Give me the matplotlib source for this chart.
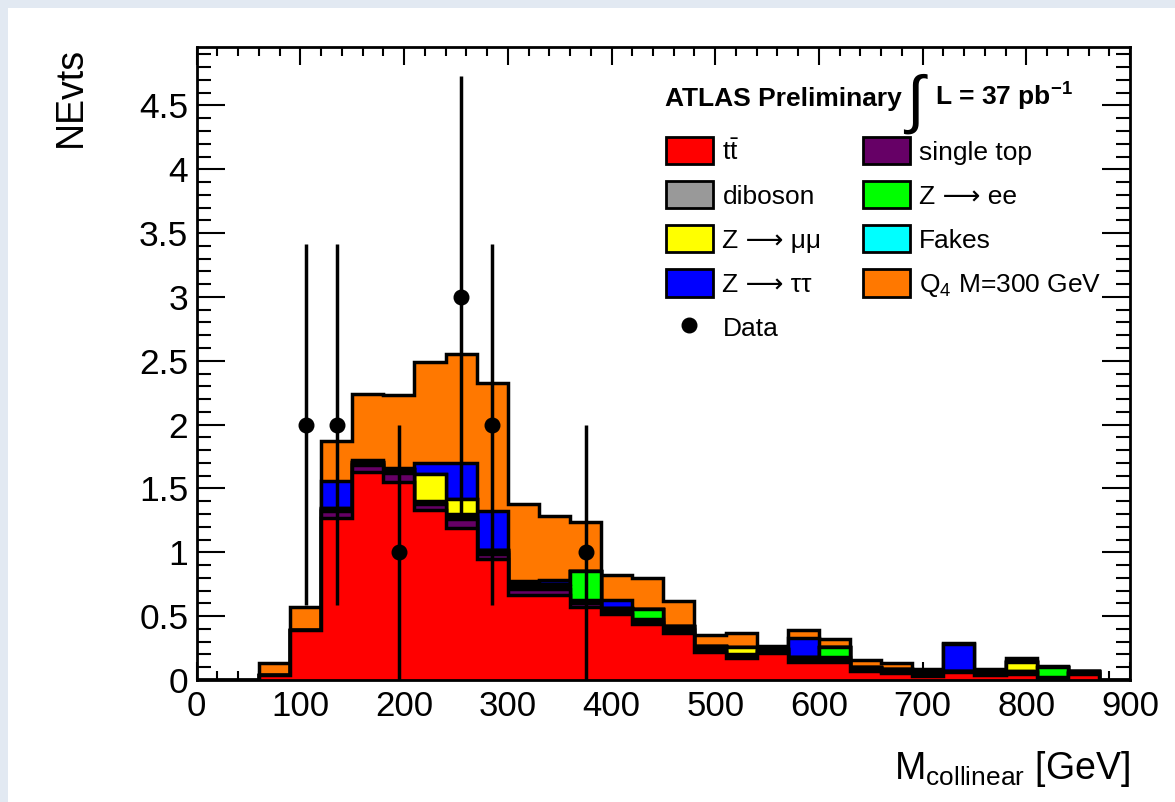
import matplotlib
matplotlib.use("Agg")
import matplotlib.pyplot as plt
import numpy as np
from matplotlib.patches import Patch, Rectangle
from matplotlib.lines import Line2D
from matplotlib.ticker import MultipleLocator, FuncFormatter

plt.rcParams['font.family'] = ['Liberation Sans', 'DejaVu Sans']
plt.rcParams['mathtext.fontset'] = 'custom'
plt.rcParams['mathtext.rm'] = 'Liberation Sans'
plt.rcParams['mathtext.it'] = 'Liberation Sans:italic'
plt.rcParams['mathtext.bf'] = 'Liberation Sans:bold'

# 30 GeV bins from 0 to 900
edges = np.arange(0, 901, 30)

ttbar = [0, 0, 0.04, 0.39, 1.27, 1.63, 1.55, 1.33, 1.19, 0.95, 0.665, 0.665, 0.575, 0.515, 0.435,
         0.37, 0.22, 0.17, 0.21, 0.14, 0.14, 0.07, 0.055, 0.03, 0.06, 0.04, 0.05, 0.015, 0.045, 0]
single_top = [0, 0, 0, 0, 0.05, 0.05, 0.07, 0.05, 0.07, 0.04, 0.05, 0.05, 0.03, 0.02, 0.02,
              0.02, 0.02, 0.015, 0.01, 0.01, 0.02, 0.01, 0.01, 0.01, 0.005, 0.01, 0.01, 0.003, 0.01, 0]
diboson = [0, 0, 0, 0, 0.01, 0.01, 0.01, 0.01, 0.02, 0.01, 0.02, 0.02, 0.02, 0.01, 0.02,
           0.01, 0.01, 0.01, 0.01, 0.01, 0.02, 0.01, 0.01, 0.01, 0.005, 0.01, 0.01, 0.003, 0.005, 0]
z_ee = [0, 0, 0, 0, 0.01, 0.02, 0.02, 0.01, 0.02, 0.02, 0.02, 0.02, 0.23, 0.02, 0.08,
        0.02, 0.02, 0.01, 0.01, 0.02, 0.08, 0.01, 0.01, 0.02, 0, 0.01, 0, 0.078, 0.01, 0]
z_mumu = [0, 0, 0, 0, 0.005, 0, 0, 0.21, 0.12, 0, 0, 0, 0, 0, 0,
          0, 0, 0.055, 0, 0, 0, 0, 0, 0, 0, 0, 0.07, 0, 0, 0]
fakes = [0, 0, 0, 0, 0.005, 0, 0, 0, 0, 0, 0, 0, 0, 0, 0,
         0, 0, 0, 0, 0, 0, 0, 0, 0, 0, 0, 0, 0, 0, 0]
z_tautau = [0, 0, 0, 0, 0.21, 0.01, 0.01, 0.09, 0.28, 0.30, 0.02, 0.03, 0, 0.065, 0,
            0, 0, 0, 0, 0.15, 0, 0, 0, 0, 0.215, 0, 0.01, 0, 0, 0]
q4 = [0, 0, 0.09, 0.18, 0.31, 0.52, 0.57, 0.79, 0.85, 1.01, 0.60, 0.50, 0.38, 0.19, 0.245,
      0.195, 0.08, 0.11, 0.025, 0.06, 0.06, 0.055, 0.045, 0.015, 0.005, 0.015, 0.025, 0.011, 0.003, 0]
data = [0, 0, 0, 2, 2, 0, 1, 0, 3, 2, 0, 0, 1, 0, 0,
        0, 0, 0, 0, 0, 0, 0, 0, 0, 0, 0, 0, 0, 0, 0]

names = [r'$\mathrm{t\bar{t}}$', 'single top', 'diboson', 'Z ⟶ ee', 'Z ⟶ μμ',
         'Fakes', 'Z ⟶ ττ', r'Q$_4$ M=300 GeV']
colors = ['#ff0000', '#660066', '#999999', '#00ff00', '#ffff00', '#00ffff', '#0000ff', '#ff7800']
stack = np.array([ttbar, single_top, diboson, z_ee, z_mumu, fakes, z_tautau, q4])
cum = np.cumsum(stack, axis=0)

fig = plt.figure(figsize=(11.75, 8.02), dpi=100)
fig.patch.set_facecolor('#e2e9f2')
fig.add_artist(Rectangle((8 / 1175, 0), 1, 1 - 8 / 802, transform=fig.transFigure,
                         facecolor='white', edgecolor='none', zorder=-1))
ax = fig.add_axes([196.7 / 1175, 1 - 680 / 802, (1130 - 196.7) / 1175, (680 - 46.7) / 802])

# THStack style: every cumulative level drawn from zero, top level first
for i in range(len(names) - 1, -1, -1):
    ax.stairs(cum[i], edges, baseline=0, fill=True, facecolor=colors[i],
              edgecolor='black', linewidth=2.5, zorder=2)

data = np.array(data, dtype=float)
centers = 0.5 * (edges[:-1] + edges[1:])
m = data > 0
ax.errorbar(centers[m], data[m], yerr=np.sqrt(data[m]), fmt='o', color='black',
            ms=10.5, elinewidth=2.5, capsize=0, zorder=5)

ax.set_xlim(0, 900)
ax.set_ylim(0, 4.96)
ax.xaxis.set_major_locator(MultipleLocator(100))
ax.xaxis.set_minor_locator(MultipleLocator(20))
ax.yaxis.set_major_locator(MultipleLocator(0.5))
ax.yaxis.set_minor_locator(MultipleLocator(0.1))
ax.yaxis.set_major_formatter(FuncFormatter(lambda v, p: f'{v:g}'))
ax.tick_params(which='both', direction='in', top=True, right=True, width=1.5)
ax.tick_params(axis='x', which='major', length=13, labelsize=25, pad=7)
ax.tick_params(axis='x', which='minor', length=6.5)
ax.tick_params(axis='y', which='major', length=20, labelsize=25.5, pad=6)
ax.tick_params(axis='y', which='minor', length=10)
for s in ax.spines.values():
    s.set_linewidth(2)
    s.set_zorder(6)

ax.set_xlabel(r'M$_{\mathrm{collinear}}$ [GeV]', loc='right', fontsize=27, labelpad=19)
ax.set_ylabel('NEvts', loc='top', fontsize=27, labelpad=36)

order = [0, 2, 4, 6, None, 1, 3, 5, 7]
handles, labels = [], []
for k in order:
    if k is None:
        handles.append(Line2D([], [], marker='o', color='black', ls='none', ms=10.5))
        labels.append('Data')
    else:
        handles.append(Patch(facecolor=colors[k], edgecolor='black', linewidth=2))
        labels.append(names[k])
ax.legend(handles, labels, ncol=2, loc='upper left', bbox_to_anchor=(666 / 1175, 1 - 137 / 802),
          bbox_transform=fig.transFigure, frameon=False, borderpad=0, borderaxespad=0,
          fontsize=19, handlelength=1.78, handleheight=1.21, handletextpad=0.36,
          columnspacing=1.56, labelspacing=0.63)

fig.text(665 / 1175, 1 - 106 / 802, 'ATLAS Preliminary', fontsize=19, fontweight='bold',
         va='baseline', ha='left')
fig.text(906 / 1175, 1 - 121 / 802, '∫', fontsize=46, va='baseline', ha='left')
fig.text(935 / 1175, 1 - 106 / 802, r'L = 37 pb$^{\mathbf{-1}}$', fontsize=19, fontweight='bold',
         va='baseline', ha='left')

fig.savefig('out.png', dpi=100, facecolor=fig.get_facecolor())
